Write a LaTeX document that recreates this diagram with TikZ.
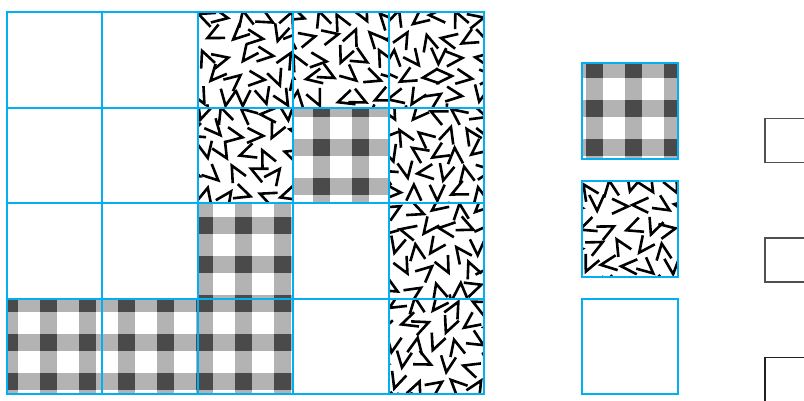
\documentclass[tikz,border=0pt]{standalone}
\definecolor{gridcyan}{RGB}{0,176,240}
\definecolor{gLight}{RGB}{179,179,179}
\definecolor{gDark}{RGB}{74,74,74}
\definecolor{boxgray}{RGB}{80,80,80}
\definecolor{boxdark}{RGB}{34,34,34}
\tikzset{
  cellline/.style={draw=gridcyan,line width=2pt},
  vstroke/.style={draw=black,line width=2.6pt},
  sidebox/.style={draw=boxgray,line width=1.6pt},
}
\newcommand{\ginghamfill}[4]{%
  \begin{scope}
    \clip (#1,#2) rectangle (#3,#4);
    \foreach \k in {0,...,20}{
      \fill[gLight] ({1+39*\k},0) rectangle ({18+39*\k},400);
    }
    \foreach \m in {-1,...,10}{
      \fill[gLight] (0,{22+39*\m}) rectangle (804,{39+39*\m});
    }
    \foreach \k in {0,...,20}{
      \foreach \m in {-1,...,10}{
        \fill[gDark] ({1+39*\k},{22+39*\m}) rectangle ({18+39*\k},{39+39*\m});
      }
    }
  \end{scope}}
\newcommand{\chevronfill}[5]{%
  \begin{scope}
    \clip (#1,#2) rectangle (#3,#4);
    \pgfmathsetseed{#5}
    \foreach \i in {-1,...,5}{
      \foreach \j in {-1,...,5}{
        \pgfmathsetmacro{\px}{#1+6+\i*21+(rnd-0.5)*6+mod(\j,2)*10.5}
        \pgfmathsetmacro{\py}{#2+6+\j*20+(rnd-0.5)*6}
        \pgfmathsetmacro{\pa}{rnd*360}
        \draw[vstroke,shift={(\px,\py)},rotate=\pa] (10,7.5) -- (-6,0) -- (10,-7.5);
      }
    }
  \end{scope}}
\begin{document}
\begin{tikzpicture}[x=1pt,y=-1pt]
\useasboundingbox (0,0) rectangle (804,400);
\clip (0,0) rectangle (804,400);
% column and row edges
\def\xa{7}\def\xb{102.4}\def\xc{197.8}\def\xd{293.2}\def\xe{388.6}\def\xf{484}
\def\ya{12}\def\yb{107.5}\def\yc{203}\def\yd{298.5}\def\ye{394}
% gingham cells
\ginghamfill{\xd}{\yb}{\xe}{\yc}
\ginghamfill{\xc}{\yc}{\xd}{\yd}
\ginghamfill{\xa}{\yd}{\xd}{\ye}
% chevron cells
\chevronfill{\xc}{\ya}{\xd}{\yb}{11}
\chevronfill{\xd}{\ya}{\xe}{\yb}{23}
\chevronfill{\xe}{\ya}{\xf}{\yb}{37}
\chevronfill{\xc}{\yb}{\xd}{\yc}{41}
\chevronfill{\xe}{\yb}{\xf}{\yc}{53}
\chevronfill{\xe}{\yc}{\xf}{\yd}{67}
\chevronfill{\xe}{\yd}{\xf}{\ye}{79}
% grid
\foreach \x/\nx in {\xa/\xb,\xb/\xc,\xc/\xd,\xd/\xe,\xe/\xf}{
  \foreach \y/\ny in {\ya/\yb,\yb/\yc,\yc/\yd,\yd/\ye}{
    \draw[cellline] (\x,\y) rectangle (\nx,\ny);
  }
}
% legend
\ginghamfill{582}{63}{677.5}{158.5}
\draw[cellline] (582,63) rectangle (677.5,158.5);
\chevronfill{582}{181}{677.5}{276.5}{97}
\draw[cellline] (582,181) rectangle (677.5,276.5);
\draw[cellline] (582,298.5) rectangle (677.5,394);
% side boxes
\draw[sidebox] (765,118.5) rectangle (840,162.5);
\draw[sidebox] (765,238) rectangle (840,282);
\draw[sidebox,draw=boxdark] (765,357.5) rectangle (840,430);
\end{tikzpicture}
\end{document}
